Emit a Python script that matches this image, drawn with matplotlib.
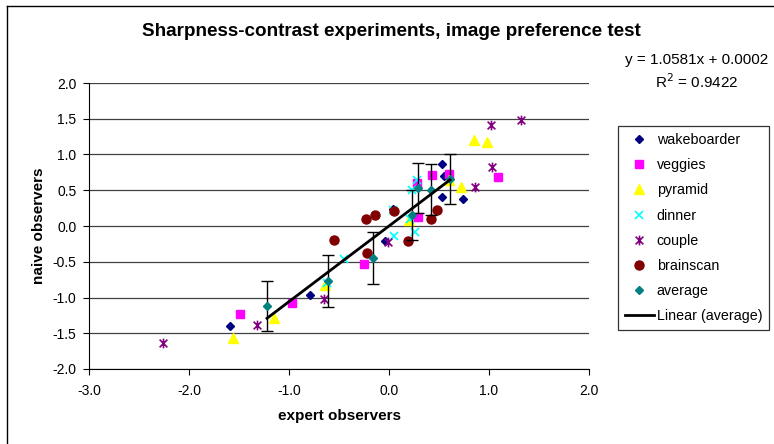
import numpy as np
import matplotlib.pyplot as plt
from matplotlib.path import Path
from matplotlib.lines import Line2D

plt.rcParams['font.family'] = ['Liberation Sans', 'DejaVu Sans']

# (expert, naive) for each image
wakeboarder_x = [-1.59, -0.79, -0.04, 0.04, 0.53, 0.55, 0.53, 0.74]
wakeboarder_y = [-1.40, -0.97, -0.21, 0.24, 0.87, 0.70, 0.40, 0.38]

veggies_x = [-1.49, -0.97, -0.25, 0.28, 0.29, 0.43, 0.60, 1.09]
veggies_y = [-1.23, -1.07, -0.53, 0.60, 0.13, 0.71, 0.73, 0.69]

pyramid_x = [-1.56, -1.15, -0.64, 0.20, 0.60, 0.72, 0.85, 0.98]
pyramid_y = [-1.57, -1.29, -0.83, 0.09, 0.64, 0.55, 1.20, 1.17]

dinner_x = [-0.45, 0.05, 0.04, 0.23, 0.28, 0.26, 0.21, -0.62]
dinner_y = [-0.46, -0.14, 0.22, 0.50, 0.65, -0.08, 0.10, -0.80]

couple_x = [-2.26, -1.32, -0.65, -0.01, 0.86, 1.03, 1.02, 1.32]
couple_y = [-1.63, -1.39, -1.02, -0.23, 0.55, 0.82, 1.41, 1.48]

brainscan_x = [-0.55, -0.23, -0.14, 0.05, -0.22, 0.19, 0.42, 0.48]
brainscan_y = [-0.19, 0.10, 0.15, 0.21, -0.38, -0.21, 0.10, 0.22]

average_x = [-1.22, -0.61, -0.16, 0.23, 0.29, 0.42, 0.61]
average_y = [-1.12, -0.77, -0.45, 0.15, 0.53, 0.51, 0.66]
average_err = [0.35, 0.36, 0.36, 0.35, 0.35, 0.36, 0.35]

slope = 1.0581
intercept = 0.0002
r2 = 0.9422

# Excel style "x with a vertical bar" marker
star = Path([(0, -1), (0, 1), (-0.8, -0.8), (0.8, 0.8), (-0.8, 0.8), (0.8, -0.8)],
            [Path.MOVETO, Path.LINETO, Path.MOVETO, Path.LINETO, Path.MOVETO, Path.LINETO])

fig = plt.figure(figsize=(7.74, 4.44), dpi=100)
ax = fig.add_axes([89/774, 1-369/444, 500/774, 286/444])

ax.plot(wakeboarder_x, wakeboarder_y, 'D', color='#000080', ms=4.5, ls='none', label='wakeboarder')
ax.plot(veggies_x, veggies_y, 's', color='#FF00FF', ms=5.5, ls='none', label='veggies')
ax.plot(pyramid_x, pyramid_y, '^', color='#FFFF00', ms=6.5, ls='none', label='pyramid')
ax.plot(dinner_x, dinner_y, 'x', color='#00FFFF', ms=6, mew=1.2, ls='none', label='dinner')
ax.plot(couple_x, couple_y, marker=star, color='#800080', ms=7, mew=1.2, ls='none', label='couple')
ax.plot(brainscan_x, brainscan_y, 'o', color='#800000', ms=6.5, ls='none', label='brainscan')
ax.errorbar(average_x, average_y, yerr=average_err, fmt='none', ecolor='black',
            elinewidth=1, capsize=4, capthick=1, zorder=3)
ax.plot(average_x, average_y, 'D', color='#008080', ms=4.5, ls='none', label='average', zorder=4)

tx = np.array([min(average_x), max(average_x)])
ax.plot(tx, slope * tx + intercept, color='black', lw=2, label='Linear (average)', zorder=5)

ax.set_xlim(-3, 2)
ax.set_ylim(-2, 2)
ax.set_xticks(np.arange(-3, 2.01, 1.0))
ax.set_yticks(np.arange(-2, 2.01, 0.5))
ax.set_xticklabels(['%.1f' % v for v in np.arange(-3, 2.01, 1.0)])
ax.set_yticklabels(['%.1f' % v for v in np.arange(-2, 2.01, 0.5)])
ax.yaxis.grid(True, color='#404040', lw=0.9)
ax.set_axisbelow(True)
for s in ['top', 'right']:
    ax.spines[s].set_visible(False)
ax.tick_params(axis='x', length=4, pad=7, labelsize=10)
ax.tick_params(axis='y', length=4, pad=5, labelsize=10)

ax.set_xlabel('expert observers', fontweight='bold', fontsize=11, labelpad=8)
ax.set_ylabel('naive observers', fontweight='bold', fontsize=11, labelpad=5)
fig.text(391/774, 1-31/444, 'Sharpness-contrast experiments, image preference test',
         ha='center', va='center', fontweight='bold', fontsize=13.6)

fig.text(697/774, 1-60/444, 'y = %.4fx + %.4f' % (slope, intercept), ha='center', va='center', fontsize=11)
fig.text(697/774, 1-82/444, 'R$^2$ = %.4f' % r2, ha='center', va='center', fontsize=11)

leg = ax.legend(loc='upper left', bbox_to_anchor=(618/774, 1-126/444), bbox_transform=fig.transFigure,
                fontsize=10.3, frameon=True, fancybox=False, edgecolor='black', borderaxespad=0,
                labelspacing=0.78, handlelength=2.0, handletextpad=0.2, borderpad=0.5, numpoints=1)
leg.get_frame().set_linewidth(0.9)

# outer chart frame
fig.add_artist(Line2D([7/774, 7/774], [0, 1-6/444], color='black', lw=1))
fig.add_artist(Line2D([7/774, 1], [1-6/444, 1-6/444], color='black', lw=1))

fig.savefig('out.png', dpi=100)
